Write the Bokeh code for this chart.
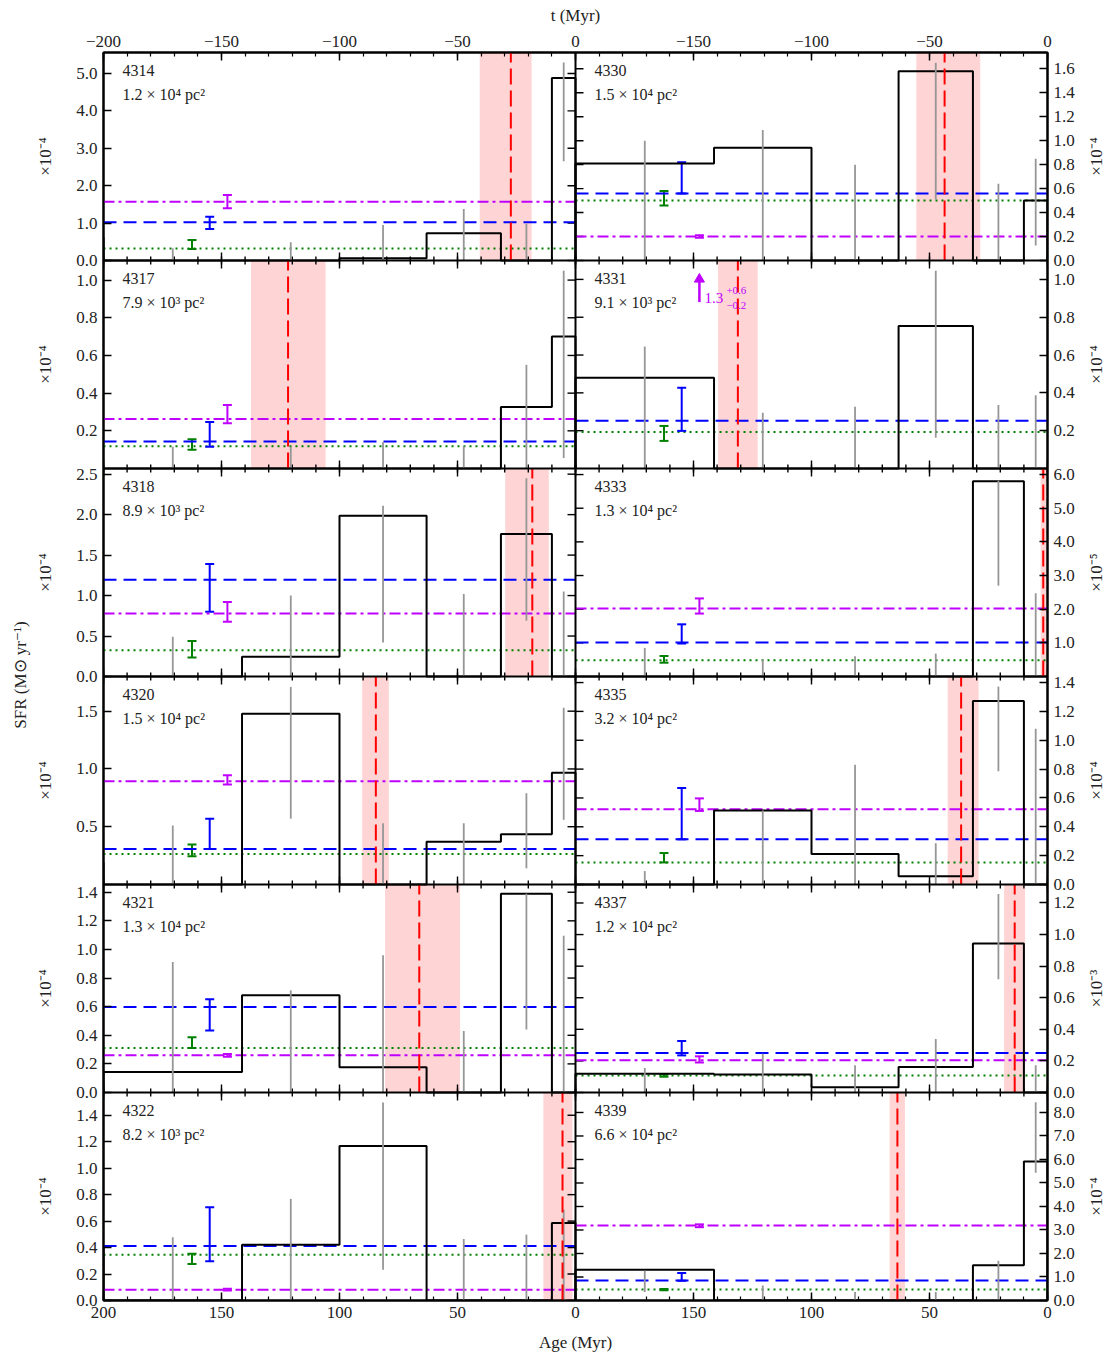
import math
from bokeh.plotting import figure
from bokeh.layouts import row as brow
from bokeh.models import (Range1d, LinearAxis, FixedTicker, CustomJSTickFormatter,
                          Label, Span)
from bokeh.embed import file_html
from bokeh.resources import INLINE

FONT = "Liberation Serif"

# ---------------- data ----------------
regions = ["4314", "4317", "4318", "4320", "4321", "4322",
           "4330", "4331", "4333", "4335", "4337", "4339"]
areas = ["1.2 × 10⁴ pc²", "7.9 × 10³ pc²", "8.9 × 10³ pc²", "1.5 × 10⁴ pc²",
         "1.3 × 10⁴ pc²", "8.2 × 10³ pc²", "1.5 × 10⁴ pc²", "9.1 × 10³ pc²",
         "1.3 × 10⁴ pc²", "3.2 × 10⁴ pc²", "1.2 × 10⁴ pc²", "6.6 × 10⁴ pc²"]
scale_labels = ["×10⁻⁴", "×10⁻⁴", "×10⁻⁴", "×10⁻⁴", "×10⁻⁴", "×10⁻⁴",
                "×10⁻⁴", "×10⁻⁴", "×10⁻⁵", "×10⁻⁴", "×10⁻³", "×10⁻⁴"]
y_max = [5.56, 1.104, 2.57, 1.80, 1.454, 1.572, 1.736, 1.10, 6.18, 1.442, 1.317, 8.85]
y_ticks = [
    [0, 1, 2, 3, 4, 5],
    [0.2, 0.4, 0.6, 0.8, 1.0],
    [0, 0.5, 1.0, 1.5, 2.0, 2.5],
    [0.5, 1.0, 1.5],
    [0, 0.2, 0.4, 0.6, 0.8, 1.0, 1.2, 1.4],
    [0, 0.2, 0.4, 0.6, 0.8, 1.0, 1.2, 1.4],
    [0, 0.2, 0.4, 0.6, 0.8, 1.0, 1.2, 1.4, 1.6],
    [0.2, 0.4, 0.6, 0.8, 1.0],
    [1, 2, 3, 4, 5, 6],
    [0, 0.2, 0.4, 0.6, 0.8, 1.0, 1.2, 1.4],
    [0, 0.2, 0.4, 0.6, 0.8, 1.0, 1.2],
    [0, 1, 2, 3, 4, 5, 6, 7, 8],
]

# age bins (Myr), youngest first
age_edges = [0, 10, 31.6, 63.1, 100, 141.3, 200]
bin_mid = [5.0, 20.8, 47.35, 81.55, 120.65, 170.65]

sfr_bins = [
    [4.88, 0, 0.73, 0.06, 0, 0],
    [0.70, 0.327, 0, 0, 0, 0],
    [0, 1.76, 0, 1.985, 0.243, 0],
    [0.968, 0.435, 0.369, 0, 1.478, 0],
    [0, 1.389, 0, 0.176, 0.679, 0.143],
    [0.586, 0, 0, 1.168, 0.422, 0],
    [0.50, 0, 1.58, 0, 0.94, 0.81],
    [0, 0, 0.753, 0, 0, 0.48],
    [0, 5.80, 0, 0, 0, 0],
    [0, 1.272, 0.058, 0.211, 0.513, 0],
    [0, 0.943, 0.161, 0.034, 0.114, 0.119],
    [5.91, 1.495, 0, 0, 0, 1.31],
]
sfr_older = [0.62, 0, 0, 0.19, 0, 0.41, 0, 0, 0, 0, 0, 0]

err_lo = [
    [2.65, 0, 0, 0, 0, 0],
    [0.055, 0, 0, 0, 0, 0],
    [0, 0.69, 0, 0.42, 0, 0],
    [0.56, 0.14, 0, 0, 0.57, 0],
    [0, 0.44, 0, 0, 0, 0],
    [0, 0, 0, 0.233, 0, 0],
    [0.125, 0, 0.51, 0, 0, 0],
    [0, 0, 0.163, 0, 0, 0],
    [0, 2.70, 0, 0, 0, 0],
    [0, 0.785, 0, 0, 0, 0],
    [0, 0.717, 0, 0, 0, 0],
    [5.44, 0, 0, 0, 0, 0.36],
]
err_hi = [
    [5.29, 0.98, 1.375, 0.95, 0.49, 0.33],
    [1.05, 0.55, 0.12, 0.14, 0.115, 0.115],
    [1.05, 2.45, 1.02, 2.11, 1.0, 0.49],
    [1.53, 0.79, 0.53, 0.53, 1.71, 0.51],
    [1.096, 1.39, 0.43, 0.96, 0.714, 0.913],
    [0.687, 0.498, 0.465, 1.496, 0.768, 0.478],
    [0.85, 0.64, 1.65, 0.80, 1.09, 1.0],
    [0.387, 0.336, 1.046, 0.327, 0.295, 0.645],
    [2.47, 5.82, 0.68, 0.6, 0.5, 0.85],
    [1.08, 1.372, 0.286, 0.83, 0.513, 0.093],
    [0.172, 1.257, 0.339, 0.172, 0.246, 0.155],
    [8.43, 1.69, 0.36, 0.36, 0.64, 1.27],
]

purple_val = [1.57, 0.263, 0.778, 0.893, 0.26, 0.081, 0.20, 1.3, 2.02, 0.522, 0.204, 3.19]
purple_lo = [1.40, 0.24, 0.675, 0.865, 0.25, 0.075, 0.19, 1.1, 1.87, 0.51, 0.19, 3.12]
purple_hi = [1.75, 0.337, 0.92, 0.945, 0.27, 0.088, 0.21, 1.9, 2.32, 0.597, 0.229, 3.24]
blue_val = [1.02, 0.143, 1.195, 0.308, 0.597, 0.412, 0.56, 0.253, 1.01, 0.313, 0.25, 0.854]
blue_lo = [0.84, 0.115, 0.80, 0.308, 0.433, 0.296, 0.56, 0.199, 0.98, 0.313, 0.235, 0.84]
blue_hi = [1.17, 0.247, 1.39, 0.568, 0.651, 0.705, 0.82, 0.427, 1.55, 0.669, 0.326, 1.17]
green_val = [0.32, 0.118, 0.325, 0.265, 0.311, 0.346, 0.50, 0.193, 0.48, 0.153, 0.108, 0.47]
green_lo = [0.31, 0.10, 0.235, 0.245, 0.311, 0.275, 0.46, 0.146, 0.41, 0.153, 0.100, 0.44]
green_hi = [0.55, 0.155, 0.44, 0.346, 0.386, 0.354, 0.58, 0.225, 0.61, 0.218, 0.115, 0.49]
# ages where the error bars of the three reference levels are drawn
green_at, blue_at, purple_at = 162.5, 155.0, 147.5

red_age = [27.4, 121.8, 18.3, 84.6, 66.2, 5.5, 43.6, 131.2, 1.8, 36.6, 13.9, 63.6]
red_lo = [18.6, 105.9, 11.3, 79.1, 48.9, 1.3, 28.5, 122.8, 0.6, 29.2, 9.5, 60.4]
red_hi = [40.6, 137.5, 29.8, 90.4, 80.7, 13.6, 55.6, 139.6, 2.9, 42.3, 18.4, 66.9]

age_major = [200, 150, 100, 50, 0]
age_minor = list(range(0, 201, 10))

# ---------------- layout constants ----------------
FW, FH = 944, 1248
CW = FW / 2.0
SLOT = FH / 6.0
TOP_B, BOT_B = 52, 58
LEFT_W, MAIN_LB, MAIN_RB, RIGHT_W = 68, 35, 36, 24
PURPLE, BLUE, GREEN, RED, GRAY = "#bf00ff", "#0000ff", "#008000", "#ff0000", "#969696"
TXT = "#222222"


def gx(col, age):
    return col * CW + (200.0 - age) * CW / 200.0


def gy(i, v):
    r = i % 6
    return (5 - r) * SLOT + v / y_max[i] * SLOT


extra_y = {}
for i in range(12):
    r = i % 6
    b = y_max[i]
    yb = (5 - r) * SLOT
    extra_y["y%d" % i] = Range1d(-b * yb / SLOT, b + b * (FH - yb - SLOT) / SLOT)

p = figure(frame_width=FW, frame_height=FH, x_range=Range1d(0, FW), y_range=Range1d(0, FH),
           output_backend="svg", toolbar_location=None,
           min_border_left=MAIN_LB, min_border_right=MAIN_RB,
           min_border_top=TOP_B, min_border_bottom=BOT_B,
           background_fill_color="white", border_fill_color="white")
p.extra_x_ranges = {"L": Range1d(200, -200), "R": Range1d(400, 0)}
p.extra_y_ranges = extra_y
p.grid.visible = False
p.outline_line_color = "black"
p.outline_line_width = 2


def fmt(pos, lab):
    return CustomJSTickFormatter(args=dict(pos=pos, lab=lab), code="""
        for (let i = 0; i < pos.length; i++) {
            if (Math.abs(pos[i] - tick) < 0.01) { return lab[i]; }
        }
        return "";
    """)


def style_axis(ax):
    ax.major_tick_in = 8
    ax.major_tick_out = 0
    ax.minor_tick_in = 4
    ax.minor_tick_out = 0
    ax.axis_line_width = 2
    ax.major_tick_line_width = 1.5
    ax.minor_tick_line_width = 1.2
    ax.major_label_text_font = FONT
    ax.major_label_text_font_size = "17px"
    ax.major_label_text_color = TXT
    ax.major_label_standoff = 6
    ax.axis_label_text_font = FONT
    ax.axis_label_text_font_size = "17px"
    ax.axis_label_text_font_style = "normal"
    ax.axis_label_text_color = TXT


# x axes (bottom: age, top: t)
xpos = [gx(0, a) for a in age_major] + [gx(1, a) for a in age_major[1:]]
xmin = [gx(0, a) for a in age_minor] + [gx(1, a) for a in age_minor]
bot_lab = ["%d" % a for a in age_major] + ["%d" % a for a in age_major[1:]]
top_lab = [("−%d" % a) if a else "0" for a in age_major] + [("−%d" % a) if a else "0" for a in age_major[1:]]

xb = p.xaxis[0]
xb.ticker = FixedTicker(ticks=xpos, minor_ticks=xmin)
xb.formatter = fmt(xpos, bot_lab)
style_axis(xb)
xb.axis_label = "Age (Myr)"
xb.axis_label_standoff = 12
xt = LinearAxis(ticker=FixedTicker(ticks=xpos, minor_ticks=xmin), formatter=fmt(xpos, top_lab))
style_axis(xt)
xt.axis_label = "t (Myr)"
xt.axis_label_standoff = 8
p.add_layout(xt, "above")

# y axes
lpos, llab, rpos, rlab = [], [], [], []
for i in range(12):
    for t in y_ticks[i]:
        if i < 6:
            lpos.append(gy(i, t)); llab.append("%.1f" % t)
        else:
            rpos.append(gy(i, t)); rlab.append("%.1f" % t)
yl = p.yaxis[0]
yl.ticker = FixedTicker(ticks=lpos)
yl.formatter = fmt(lpos, llab)
style_axis(yl)
yr_ax = LinearAxis(ticker=FixedTicker(ticks=rpos), formatter=fmt(rpos, rlab))
style_axis(yr_ax)
p.add_layout(yr_ax, "right")

# panel separators
for j in range(1, 6):
    p.add_layout(Span(location=j * SLOT, dimension="width", line_color="black", line_width=2))
p.add_layout(Span(location=CW, dimension="height", line_color="black", line_width=2))

# inner tick marks at panel borders
tx0, ty0, tx1, ty1 = [], [], [], []
for j in range(1, 6):
    Y = j * SLOT
    for x in xpos:
        tx0.append(x); tx1.append(x); ty0.append(Y - 8); ty1.append(Y + 8)
    for x in xmin:
        tx0.append(x); tx1.append(x); ty0.append(Y - 4); ty1.append(Y + 4)
for y in lpos:
    tx0.append(CW - 8); tx1.append(CW); ty0.append(y); ty1.append(y)
for y in rpos:
    tx0.append(CW); tx1.append(CW + 8); ty0.append(y); ty1.append(y)
p.segment(tx0, ty0, tx1, ty1, line_color="black", line_width=1.4)

# ---------------- panels ----------------
for i in range(12):
    col, r = divmod(i, 6)
    xr = "L" if col == 0 else "R"
    yr = "y%d" % i
    top = y_max[i]
    kw = dict(x_range_name=xr, y_range_name=yr)

    # red marker band
    p.quad(left=[red_hi[i]], right=[red_lo[i]], bottom=[0], top=[top],
           fill_color=RED, fill_alpha=0.17, line_color=None, level="underlay", **kw)

    # reference levels
    for val, lo, hi, at, colr, dash in [
        (green_val[i], green_lo[i], green_hi[i], green_at, GREEN, "2 4"),
        (blue_val[i], blue_lo[i], blue_hi[i], blue_at, BLUE, "13 7"),
        (purple_val[i], purple_lo[i], purple_hi[i], purple_at, PURPLE, "11 4 3 4"),
    ]:
        if val <= top:
            p.segment(x0=[200], y0=[val], x1=[0], y1=[val], line_color=colr,
                      line_width=2, line_dash=dash, **kw)
            p.segment(x0=[at], y0=[lo], x1=[at], y1=[hi], line_color=colr, line_width=2, **kw)
            p.scatter(x=[at, at], y=[lo, hi], marker="dash", size=9, line_color=colr,
                      line_width=2, **kw)
        else:
            arrow_base = top * 0.80
            arrow_tip = top * 0.91
            p.segment(x0=[at], y0=[arrow_base], x1=[at], y1=[arrow_tip], line_color=colr,
                      line_width=2.5, **kw)
            p.scatter(x=[at], y=[arrow_tip], marker="triangle", size=10, fill_color=colr,
                      line_color=colr, **kw)
            ymid = top * 0.82
            p.add_layout(Label(x=at, y=ymid, x_offset=5, text="%.1f" % val, text_color=colr,
                               text_font=FONT, text_font_size="15px", text_baseline="middle", **kw))
            p.add_layout(Label(x=at, y=ymid + top * 0.035, x_offset=27, text="+%.1f" % (hi - val),
                               text_color=colr, text_font=FONT, text_font_size="11px",
                               text_baseline="middle", **kw))
            p.add_layout(Label(x=at, y=ymid - top * 0.035, x_offset=27, text="−%.1f" % (val - lo),
                               text_color=colr, text_font=FONT, text_font_size="11px",
                               text_baseline="middle", **kw))

    # histogram outline
    v = sfr_bins[i]
    xs, ys = [age_edges[0]], [0]
    for k in range(6):
        xs += [age_edges[k], age_edges[k + 1]]
        ys += [v[k], v[k]]
    xs.append(age_edges[6]); ys.append(sfr_older[i])
    p.line(xs, ys, line_color="black", line_width=2, **kw)

    # uncertainty bars
    p.segment(x0=bin_mid, y0=err_lo[i], x1=bin_mid, y1=err_hi[i], line_color=GRAY,
              line_width=1.8, **kw)

    # red line
    p.segment(x0=[red_age[i]], y0=[0], x1=[red_age[i]], y1=[top], line_color=RED,
              line_width=2, line_dash="16 6", **kw)

    # texts
    x_left = col * CW + 19
    y_top = (6 - r) * SLOT
    p.add_layout(Label(x=x_left, y=y_top - 12, text=regions[i], text_font=FONT,
                       text_font_size="16px", text_baseline="top", text_color=TXT))
    p.add_layout(Label(x=x_left, y=y_top - 33, text=areas[i], text_font=FONT,
                       text_font_size="16px", text_baseline="top", text_color=TXT))


# ---------------- side strips holding the scale labels ----------------
def side_fig(w):
    f = figure(frame_width=w, frame_height=FH, x_range=Range1d(0, w),
               y_range=Range1d(0, FH), output_backend="svg", toolbar_location=None,
               x_axis_location=None, y_axis_location=None,
               min_border_left=0, min_border_right=0,
               min_border_top=TOP_B, min_border_bottom=BOT_B,
               background_fill_color="white", border_fill_color="white")
    f.grid.visible = False
    f.outline_line_color = None
    return f


left = side_fig(LEFT_W)
right = side_fig(RIGHT_W)
for i in range(12):
    col, r = divmod(i, 6)
    yc = (5 - r) * SLOT + SLOT / 2
    f, xc = (left, 45) if col == 0 else (right, 13)
    f.add_layout(Label(x=xc, y=yc, text=scale_labels[i], angle=math.pi / 2,
                       text_align="center", text_baseline="middle", text_font=FONT,
                       text_font_size="17px", text_color=TXT))
left.add_layout(Label(x=20, y=FH / 2, text="SFR (M⊙ yr⁻¹)", angle=math.pi / 2,
                      text_align="center", text_baseline="middle", text_font=FONT,
                      text_font_size="17px", text_color=TXT))

layout = brow(left, p, right)
open("out.html", "w").write(file_html(layout, INLINE))
